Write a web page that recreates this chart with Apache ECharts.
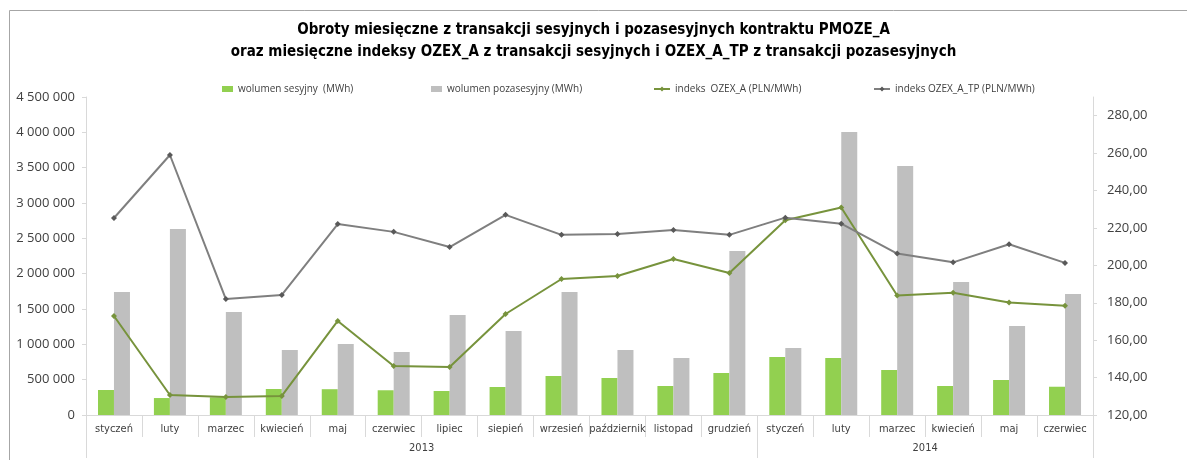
<!DOCTYPE html>
<html>
<head>
<meta charset="utf-8">
<script src="https://cdn.jsdelivr.net/npm/echarts@6/dist/echarts.min.js"></script>
<style>
html,body{margin:0;padding:0;background:#fff;}
#c{width:1187px;height:460px;}
</style>
</head>
<body>
<div id="c"></div>
<script>
const months = ['styczeń','luty','marzec','kwiecień','maj','czerwiec','lipiec','siepień','wrzesień','październik','listopad','grudzień','styczeń','luty','marzec','kwiecień','maj','czerwiec'];
const years = ['2013','2014'];
const yearStart = [0, 12];
const yearEnd = [12, 18];
const volSession = [354000,240000,250000,368000,365000,350000,340000,396000,552000,524000,410000,594000,820000,806000,637000,410000,495000,400000];
const volOffSession = [1740000,2632000,1457000,920000,1005000,890000,1415000,1189000,1740000,920000,807000,2321000,948000,4005000,3524000,1882000,1259000,1712000];
const ozexA = [172.9,130.7,129.6,130.2,170.3,146.2,145.7,174.0,192.7,194.3,203.4,195.9,224.1,230.9,183.9,185.3,180.2,178.4];
const ozexATP = [225.3,259.0,182.0,184.2,222.1,217.9,209.8,227.0,216.3,216.8,218.9,216.3,225.5,222.3,206.3,201.6,211.3,201.3];
const leftTicks = {min:0, max:4500000, interval:500000};
const rightTicks = {min:120, max:290, interval:20};

const FONT = 'Liberation Sans Narrow, DejaVu Sans Condensed, sans-serif';
const FONT2 = 'Open Sans, Lato, sans-serif';
const chart = echarts.init(document.getElementById('c'));

const yearCenters = years.map((y,i)=> (yearStart[i]+yearEnd[i])/2);
const yearTicks = [0].concat(yearEnd);

function fmtThousands(v){
  return String(Math.round(v)).replace(/\B(?=(\d{3})+(?!\d))/g,' ');
}
const legendText = {fontSize:10, color:'#404040', fontFamily:FONT2};

chart.setOption({
  animation:false,
  backgroundColor:'#fff',
  title:{
    text:'Obroty miesięczne z transakcji sesyjnych i pozasesyjnych kontraktu PMOZE_A\noraz miesięczne indeksy OZEX_A z transakcji sesyjnych i OZEX_A_TP z transakcji pozasesyjnych',
    left:'center', top:14,
    textStyle:{fontSize:15, fontWeight:'bold', color:'#000', fontFamily:FONT, lineHeight:22}
  },
  graphic:[{
    type:'rect', silent:true,
    shape:{x:9.5,y:10.5,width:1200,height:500},
    style:{fill:'none', stroke:'#A6A6A6', lineWidth:1}
  }],
  legend:[
    {data:['wolumen sesyjny  (MWh)'], left:217, top:79, itemWidth:11, itemHeight:6, textStyle:legendText, icon:'rect'},
    {data:['wolumen pozasesyjny (MWh)'], left:426, top:79, itemWidth:11, itemHeight:6, textStyle:legendText, icon:'rect'},
    {data:['indeks  OZEX_A (PLN/MWh)'], left:648, top:79, itemWidth:16, itemHeight:6, textStyle:legendText},
    {data:['indeks OZEX_A_TP (PLN/MWh)'], left:868, top:79, itemWidth:16, itemHeight:6, textStyle:legendText}
  ],
  grid:{left:86, right:94, top:97, bottom:45, containLabel:false},
  xAxis:[
    {
      type:'category', data:months, position:'bottom', boundaryGap:true,
      axisLine:{show:true, lineStyle:{color:'#D9D9D9'}},
      axisTick:{show:true, interval:0, length:22, lineStyle:{color:'#D9D9D9'}},
      axisLabel:{interval:0, color:'#404040', fontSize:11, fontFamily:FONT, margin:9}
    },
    {
      type:'value', position:'bottom', min:0, max:18, offset:0,
      axisLine:{show:false},
      splitLine:{show:false},
      axisTick:{show:true, customValues:yearTicks, length:43, lineStyle:{color:'#D9D9D9'}},
      axisLabel:{customValues:yearCenters, color:'#404040', fontSize:11, fontFamily:FONT, margin:28,
        formatter:(v)=>{const i=yearCenters.indexOf(v); return i>=0?years[i]:'';}}
    }
  ],
  yAxis:[
    {
      type:'value', position:'left', min:leftTicks.min, max:leftTicks.max, interval:leftTicks.interval,
      axisLine:{show:true, lineStyle:{color:'#D9D9D9'}},
      axisTick:{show:true, length:4, lineStyle:{color:'#D9D9D9'}},
      splitLine:{show:false},
      axisLabel:{color:'#404040', fontSize:13, fontFamily:FONT2, margin:11, formatter:fmtThousands}
    },
    {
      type:'value', position:'right', min:rightTicks.min, max:rightTicks.max, interval:rightTicks.interval,
      axisLine:{show:true, lineStyle:{color:'#D9D9D9'}},
      axisTick:{show:true, length:4, lineStyle:{color:'#D9D9D9'}},
      splitLine:{show:false},
      axisLabel:{color:'#404040', fontSize:13, fontFamily:FONT2, margin:14, showMaxLabel:false,
        formatter:(v)=> v>=rightTicks.max ? '' : v.toFixed(2).replace('.',',')}
    }
  ],
  series:[
    {name:'wolumen sesyjny  (MWh)', type:'bar', data:volSession, xAxisIndex:0, yAxisIndex:0,
      barWidth:16, barGap:'0%', itemStyle:{color:'#92D050'}},
    {name:'wolumen pozasesyjny (MWh)', type:'bar', data:volOffSession, xAxisIndex:0, yAxisIndex:0,
      barWidth:16, barGap:'0%', itemStyle:{color:'#BFBFBF'}},
    {name:'indeks  OZEX_A (PLN/MWh)', type:'line', data:ozexA, xAxisIndex:0, yAxisIndex:1,
      symbol:'diamond', symbolSize:6, lineStyle:{color:'#77933C', width:2}, itemStyle:{color:'#77933C'}},
    {name:'indeks OZEX_A_TP (PLN/MWh)', type:'line', data:ozexATP, xAxisIndex:0, yAxisIndex:1,
      symbol:'diamond', symbolSize:6, lineStyle:{color:'#7F7F7F', width:2}, itemStyle:{color:'#595959'}}
  ]
});
</script>
</body>
</html>
